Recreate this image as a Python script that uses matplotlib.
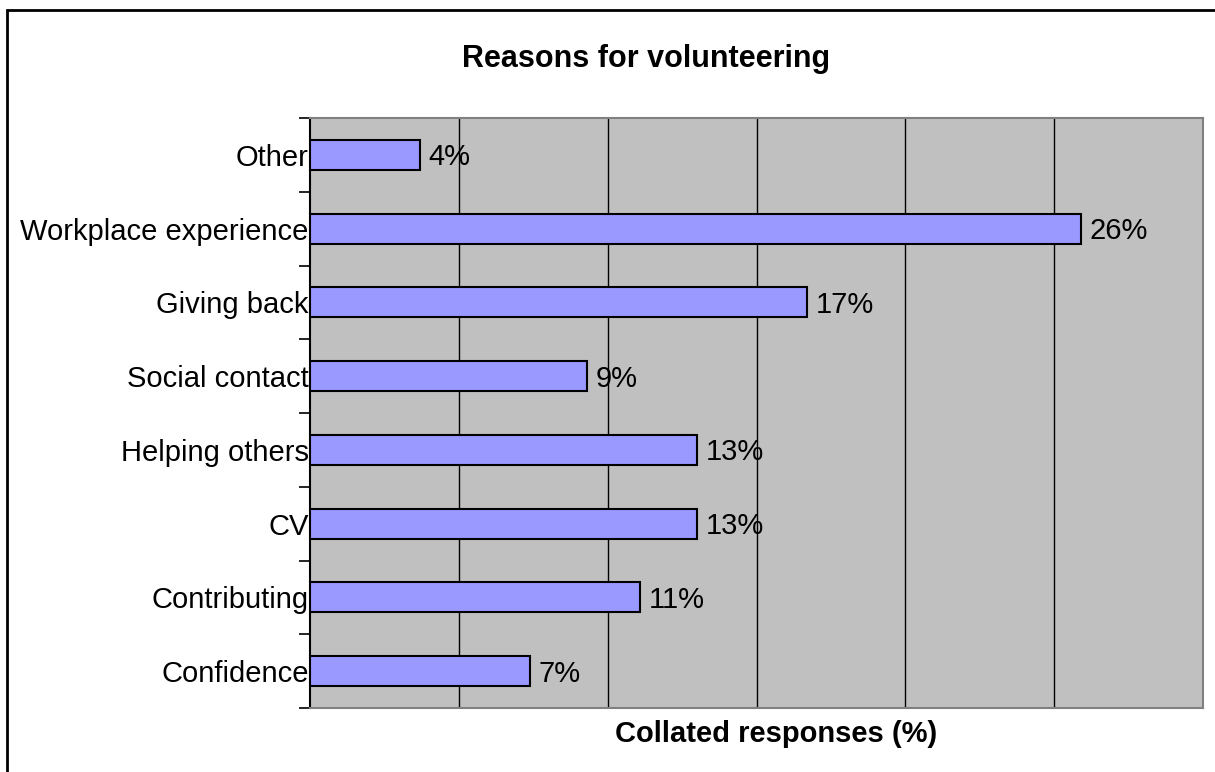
import numpy as np
import matplotlib.pyplot as plt
from matplotlib.patches import Rectangle

plt.rcParams['font.family'] = ['Liberation Sans', 'DejaVu Sans']

# reasons, listed top to bottom, with share of collated responses
reasons = ['Other', 'Workplace experience', 'Giving back', 'Social contact',
           'Helping others', 'CV', 'Contributing', 'Confidence']
shares = [0.037, 0.259, 0.167, 0.093, 0.130, 0.130, 0.111, 0.074]

fig = plt.figure(figsize=(12.15, 7.72), dpi=100)
ax = fig.add_axes([310 / 1215, 64 / 772, 893 / 1215, 590 / 772])

# outer chart frame (only left/top edges fall inside the image)
fig.patches.append(Rectangle((7 / 1215, -0.05), 1.1, (772 - 10) / 772 + 0.05,
                             transform=fig.transFigure, fill=False,
                             edgecolor='black', linewidth=2))

y = np.arange(len(reasons))
ax.barh(y, shares, height=0.41, color='#9999FF', edgecolor='black',
        linewidth=1.5, zorder=3)

# value labels, baseline placed so the digits sit centred on the bar
for yi, v in zip(y, shares):
    ax.annotate(f'{v * 100:.0f}%', xy=(v, yi), xytext=(6, -7.5),
                textcoords='offset points', va='baseline', ha='left',
                fontsize=21, zorder=4)

ax.set_facecolor('#C0C0C0')
ax.set_xlim(0, 0.3)
ax.set_ylim(len(reasons) - 0.5, -0.5)
ax.set_xticks(np.arange(0.05, 0.3, 0.05))
ax.tick_params(axis='x', length=0, labelbottom=False)
ax.grid(axis='x', color='black', linewidth=1, zorder=1)

ax.set_yticks(y)
ax.set_yticklabels(reasons, fontsize=21)
ax.tick_params(axis='y', which='major', length=0, pad=1)
ax.set_yticks(np.arange(-0.5, len(reasons), 1), minor=True)
ax.tick_params(axis='y', which='minor', length=8, width=1.2,
               direction='out', color='black')

for side in ['top', 'right', 'bottom']:
    ax.spines[side].set_color('#808080')
    ax.spines[side].set_linewidth(1.5)
ax.spines['left'].set_color('black')
ax.spines['left'].set_linewidth(1.5)

fig.text(646 / 1215, 1 - 67 / 772, 'Reasons for volunteering',
         fontsize=22, fontweight='bold', ha='center', va='baseline')
fig.text(776 / 1215, 1 - 742 / 772, 'Collated responses (%)',
         fontsize=21, fontweight='bold', ha='center', va='baseline')

fig.savefig('out.png', dpi=100, facecolor='white')
